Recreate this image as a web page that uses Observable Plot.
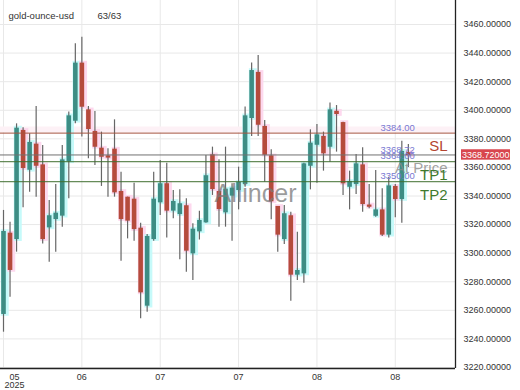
<!DOCTYPE html>
<html>
<head>
<meta charset="utf-8">
<script src="https://cdn.jsdelivr.net/npm/d3@7"></script>
<script src="https://cdn.jsdelivr.net/npm/@observablehq/plot@0.6"></script>
<style>
  html, body { margin: 0; padding: 0; background: #fff; }
  #chart svg { display: block; }
</style>
</head>
<body>
<div id="chart"></div>
<script>
// Daily candles, gold-ounce-usd
const open  = [3257.6,3313.5,3310.0,3385.4,3358.5,3375.8,3361.3,3318.2,3324.0,3326.4,
               3364.4,3392.8,3432.5,3399.8,3384.7,3373.0,3367.6,3372.3,3342.7,3338.7,
               3337.3,3317.0,3263.4,3310.0,3335.7,3348.1,3329.9,3327.5,3332.7,3300.0,
               3315.4,3321.7,3368.3,3342.7,3328.7,3340.4,3344.3,3348.5,3394.7,3426.0,
               3388.2,3367.6,3332.2,3310.0,3325.7,3285.1,3286.0,3361.3,3376.0,3381.2,
               3374.6,3398.8,3390.9,3346.6,3348.5,3361.3,3333.2,3326.3,3329.8,3313.1,
               3346.2,3338.0,3369.9];
const high  = [3329.9,3321.7,3390.5,3387.7,3383.5,3402.6,3375.3,3336.9,3348.1,3375.3,
               3398.7,3446.5,3451.1,3402.6,3399.1,3384.7,3373.0,3393.3,3356.7,3339.2,
               3349.0,3321.0,3313.1,3356.7,3364.8,3363.0,3343.9,3344.3,3338.0,3320.5,
               3329.4,3368.3,3374.2,3365.3,3374.2,3348.5,3360.2,3402.2,3433.0,3438.3,
               3392.8,3372.3,3332.7,3333.4,3328.7,3314.7,3363.0,3386.3,3390.0,3384.7,
               3405.0,3403.3,3391.6,3357.4,3369.0,3373.7,3348.0,3357.8,3345.0,3353.2,
               3348.0,3378.4,3376.0];
const low   = [3244.7,3269.2,3300.7,3331.7,3342.7,3339.2,3306.5,3293.7,3300.7,3318.2,
               3338.0,3390.5,3381.2,3366.0,3361.3,3346.7,3339.2,3339.2,3294.4,3310.0,
               3308.4,3254.1,3258.7,3308.4,3326.4,3310.7,3324.0,3295.4,3286.7,3280.9,
               3309.3,3321.0,3340.4,3318.2,3318.2,3308.4,3330.3,3346.2,3381.6,3381.6,
               3349.7,3323.3,3300.7,3306.1,3266.4,3280.9,3279.0,3344.3,3349.0,3357.4,
               3363.7,3370.7,3340.3,3330.3,3341.0,3328.7,3331.0,3325.2,3311.7,3310.7,
               3324.7,3321.0,3360.0];
const close = [3314.7,3288.4,3387.0,3359.7,3377.0,3361.3,3310.0,3325.7,3327.5,3364.8,
               3395.6,3432.5,3402.6,3387.0,3374.6,3367.6,3367.0,3342.7,3324.0,3322.9,
               3317.0,3272.7,3311.2,3337.3,3348.1,3329.9,3335.7,3334.1,3301.9,3316.3,
               3322.4,3353.7,3345.0,3331.0,3344.3,3345.0,3349.0,3395.6,3427.3,3390.0,
               3369.0,3336.4,3313.1,3327.1,3285.1,3287.4,3362.0,3376.5,3382.3,3370.0,
               3399.8,3397.5,3349.0,3349.7,3362.0,3334.5,3332.6,3329.8,3313.1,3346.6,
               3338.0,3370.7,3368.72];

// Date ticks (every 12th candle)
const xTicks = [0, 12, 24, 36, 48, 60];
const xTickLabels = ["05", "06", "07", "07", "08", "08"];
const yearLabel = "2025";

// Price axis ticks
const yTicks = [3220, 3240, 3260, 3280, 3300, 3320, 3340, 3360, 3380, 3400, 3420, 3440, 3460, 3480];

// Trade levels
const levelNames  = ["SL", "At Price", "TP1", "TP2"];
const levelValues = [3384.00, 3368.72, 3364.00, 3350.00];
const levelLine   = ["#a5523f", "#707070", "#3f6f2f", "#3f6f2f"];
const levelText   = ["#b5452f", "#8a8a8a", "#3f7a2c", "#3f7a2c"];

const symbol = "gold-ounce-usd";
const brand = "Allincer";

const candles = open.map((o, i) => ({
  i, o, h: high[i], l: low[i], c: close[i],
  top: Math.max(o, close[i]), bot: Math.min(o, close[i]),
  up: close[i] >= o
}));
const levels = levelValues.map((v, k) => ({v, name: levelNames[k], line: levelLine[k], text: levelText[k]}));
const lastClose = close[close.length - 1];

const UP = "#3d8d84", DOWN = "#b54b3c";
const UP_GLOW = "#c6fafa", DOWN_GLOW = "#fdd8ee";
const fmt5 = d3.format(".5f"), fmt2 = d3.format(".2f");

const xDomain = [-0.46, 69.22];
const yDomain = [3219.3, 3476.8];

// Current price tag on the right-hand axis
function priceTag(index, scales, values, dimensions) {
  const y = scales.y(lastClose);
  const x0 = dimensions.width - dimensions.marginRight + 6;
  const g = d3.create("svg:g");
  g.append("rect")
    .attr("x", x0).attr("y", y - 5.2)
    .attr("width", 49).attr("height", 10.4)
    .attr("fill", "#d8454e");
  g.append("text")
    .attr("x", x0 + 1).attr("y", y).attr("dy", "0.35em")
    .attr("text-anchor", "start")
    .attr("fill", "#fff").attr("font-size", 9)
    .text(fmt5(lastClose));
  return g.node();
}

const chart = Plot.plot({
  width: 520,
  height: 390,
  marginLeft: 0,
  marginRight: 65,
  marginTop: 0,
  marginBottom: 22,
  style: {fontFamily: "'Liberation Sans', Arial, sans-serif", fontSize: "9px", color: "#333", background: "#fff"},
  x: {domain: xDomain, axis: null},
  y: {domain: yDomain, axis: null},
  marks: [
    // grid
    Plot.ruleX(xTicks, {stroke: "#e8e8e8", strokeWidth: 1}),
    Plot.ruleY(yTicks.filter(t => t >= yDomain[0] && t <= yDomain[1]), {stroke: "#e8e8e8", strokeWidth: 1}),
    // faint haze above the stop-loss line
    Plot.ruleY([levelValues[0]], {stroke: "#fdf1f6", strokeWidth: 6, dy: -3.5}),
    // body glow
    Plot.ruleX(candles, {x: "i", y1: "top", y2: "bot", stroke: d => d.up ? UP_GLOW : DOWN_GLOW,
      strokeWidth: 8, dx: 1.2, insetTop: -2.5, insetBottom: -2.5}),
    // wicks
    Plot.ruleX(candles, {x: "i", y1: "h", y2: "l", stroke: "#666", strokeWidth: 1.2}),
    // bodies
    Plot.ruleX(candles, {x: "i", y1: "top", y2: "bot", stroke: d => d.up ? UP : DOWN,
      strokeWidth: 4.6, insetTop: -0.7, insetBottom: -0.7}),
    // trade levels
    Plot.ruleY(levels, {y: "v", stroke: "line", strokeWidth: 1}),
    Plot.text(levels, {y: "v", text: d => fmt2(d.v), frameAnchor: "right", dx: -75, dy: -5.5,
      textAnchor: "start", fill: "#7878d2", fontSize: 9.5}),
    Plot.text(levels, {y: "v", text: "name", frameAnchor: "right", dx: -8, dy: 13,
      textAnchor: "end", fill: "text", fontSize: 15, fillOpacity: d => d.name === "At Price" ? 0.8 : 1}),
    // brand watermark
    Plot.text([brand], {text: d => d, frameAnchor: "middle", dx: 27.5, dy: 9, fontSize: 25,
      fill: "#7a7a7a", fillOpacity: 0.75}),
    // symbol header
    Plot.text([symbol], {text: d => d, frameAnchor: "top-left", dx: 8, dy: 12, textAnchor: "start",
      fontSize: 9.5, fill: "#333"}),
    Plot.text([`${candles.length}/${candles.length}`], {text: d => d, frameAnchor: "top-left", dx: 97, dy: 12,
      textAnchor: "start", fontSize: 9.5, fill: "#333"}),
    // frame: bottom and right edges
    Plot.ruleY([yDomain[0]], {stroke: "#222", strokeWidth: 1.3}),
    Plot.ruleX([xDomain[1]], {stroke: "#222", strokeWidth: 1.3}),
    // price axis labels
    Plot.text(yTicks, {y: d => d, text: d => fmt5(d), frameAnchor: "right", dx: 8, textAnchor: "start",
      fill: "#333", fontSize: 9}),
    // date axis labels
    Plot.text(xTicks.slice(1), {x: d => d, text: (d, k) => xTickLabels[k + 1], frameAnchor: "bottom",
      lineAnchor: "top", dy: 5, fill: "#333", fontSize: 9}),
    Plot.text([xTicks[0]], {x: d => d, text: () => `${xTickLabels[0]}\n${yearLabel}`, frameAnchor: "bottom",
      lineAnchor: "top", dy: 5, dx: 11, lineHeight: 0.95, fill: "#333", fontSize: 9}),
    priceTag
  ]
});

// the price labels stop at the bottom edge of the plot area
const svgNS = "http://www.w3.org/2000/svg";
const labelNode = Array.from(chart.querySelectorAll("text")).find(t => t.textContent === fmt5(yTicks[0]));
if (labelNode) {
  const defs = document.createElementNS(svgNS, "defs");
  const cp = document.createElementNS(svgNS, "clipPath");
  cp.setAttribute("id", "price-clip");
  const cr = document.createElementNS(svgNS, "rect");
  cr.setAttribute("x", -100); cr.setAttribute("y", -10);
  cr.setAttribute("width", 700); cr.setAttribute("height", 379.5);
  cp.appendChild(cr); defs.appendChild(cp);
  chart.insertBefore(defs, chart.firstChild);
  labelNode.parentNode.setAttribute("clip-path", "url(#price-clip)");
}

document.getElementById("chart").appendChild(chart);
</script>
</body>
</html>
